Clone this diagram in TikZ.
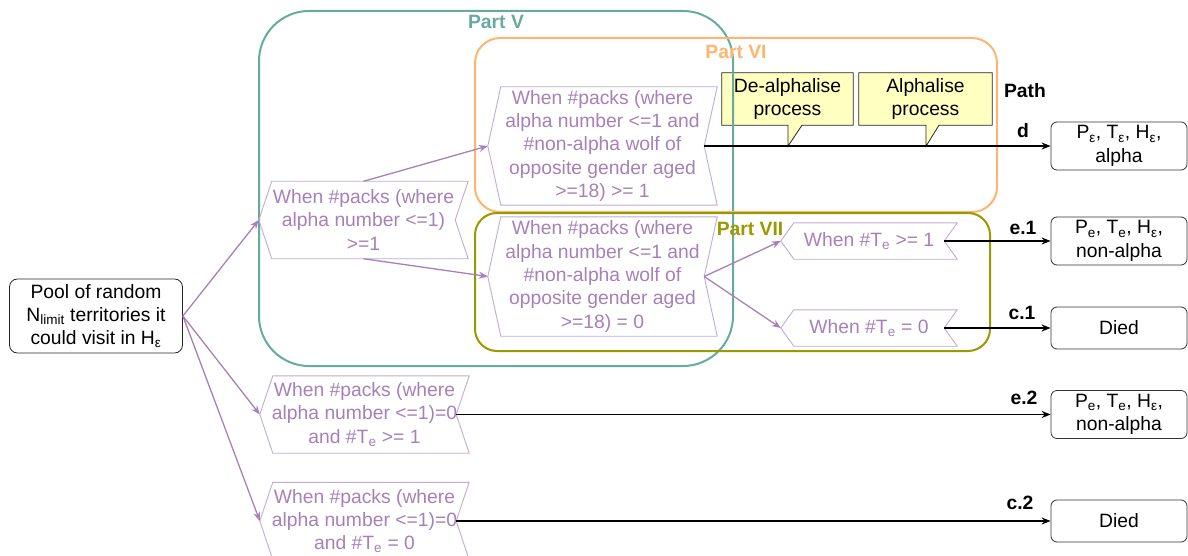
\documentclass[tikz,border=0pt]{standalone}
\usepackage{fontspec}
\setmainfont{Liberation Sans}
\usetikzlibrary{arrows.meta,backgrounds}

\definecolor{purp}{HTML}{A680B8}
\definecolor{purpline}{HTML}{C3A9D3}
\definecolor{tealV}{HTML}{67AB9F}
\definecolor{orangeVI}{HTML}{FFB570}
\definecolor{oliveVII}{HTML}{999900}
\definecolor{callfill}{HTML}{FFFFC0}

\begin{document}
\begin{tikzpicture}[x=1pt,y=-1pt,
  every node/.style={font=\fontsize{19.3pt}{23.3pt}\selectfont, inner sep=0pt, align=center},
  cond/.style={text=purp},
  chevline/.style={draw=purpline, line width=0.9pt},
  result/.style={draw=black!80, rounded corners=6pt, line width=0.8pt, minimum width=136pt},
  partlabel/.style={font=\fontsize{19.3pt}{23.3pt}\selectfont\bfseries},
  pathlabel/.style={font=\fontsize{19.3pt}{23.3pt}\selectfont\bfseries},
  callbox/.style={minimum height=52pt},
  callline/.style={draw=black!85, fill=callfill, line width=0.8pt},
  parr/.style={draw=purp, line width=1.3pt, -{Stealth[length=9pt,width=7pt,inset=3pt]}},
  blk/.style={draw=black, line width=1.2pt, -{Stealth[length=9pt,width=7pt,inset=3pt]}}
]
\useasboundingbox (0,0) rectangle (1188,556);

% grouping frames
\draw[tealV, line width=2pt, rounded corners=50pt] (259,11) rectangle (733,366);
\draw[orangeVI, line width=2pt, rounded corners=25pt] (475,38) rectangle (997,212);
\draw[oliveVII, line width=2pt, rounded corners=22pt] (475,213) rectangle (990,351);

\node[partlabel, text=tealV] (lblV) at (496,22) {Part V};
\node[partlabel, text=orangeVI] (lblVI) at (736,52) {Part VI};
\node[partlabel, text=oliveVII] (lblVII) at (750,229) {Part VII};

% start node
\node[draw=black!85, rounded corners=8pt, line width=0.8pt, minimum width=173pt, minimum height=74pt]
  (pool) at (96,316) {Pool of random\\N\textsubscript{limit} territories it\\could visit in H\textsubscript{ε}};

% condition steps
\node[cond, minimum width=209pt, minimum height=77pt] (b1) at (363.5,220)
  {When \#packs (where\\alpha number <=1)\\>=1};
\node[cond, minimum width=229pt, minimum height=118pt] (b2) at (602.5,146)
  {When \#packs (where\\alpha number <=1 and\\\#non-alpha wolf of\\opposite gender aged\\>=18) >= 1};
\node[cond, minimum width=229pt, minimum height=119pt] (b3) at (602.5,276.5)
  {When \#packs (where\\alpha number <=1 and\\\#non-alpha wolf of\\opposite gender aged\\>=18) = 0};
\node[cond, minimum width=176pt, minimum height=36pt] (b4) at (869,241)
  {When \#T\textsubscript{e} >= 1};
\node[cond, minimum width=176pt, minimum height=36pt] (b5) at (869,328)
  {When \#T\textsubscript{e} = 0};
\node[cond, minimum width=209pt, minimum height=77pt] (b6) at (364.5,414.5)
  {When \#packs (where\\alpha number <=1)=0\\and \#T\textsubscript{e} >= 1};
\node[cond, minimum width=209pt, minimum height=77pt] (b7) at (364.5,521)
  {When \#packs (where\\alpha number <=1)=0\\and \#T\textsubscript{e} = 0};

\foreach \n in {b1,b2,b3,b4,b5,b6,b7}
  \draw[chevline] ([xshift=13pt]\n.north west) -- (\n.north east) -- ([xshift=-13pt]\n.east)
    -- (\n.south east) -- ([xshift=13pt]\n.south west) -- (\n.west) -- cycle;

% outcomes
\node[result, minimum height=48pt] (r1) at (1119,146) {P\textsubscript{ε}, T\textsubscript{ε}, H\textsubscript{ε},\\alpha};
\node[result, minimum height=48pt] (r2) at (1119,241) {P\textsubscript{e}, T\textsubscript{e}, H\textsubscript{ε},\\non-alpha};
\node[result, minimum height=42pt] (r3) at (1119,328) {Died};
\node[result, minimum height=48pt] (r4) at (1119,414.5) {P\textsubscript{e}, T\textsubscript{e}, H\textsubscript{ε},\\non-alpha};
\node[result, minimum height=42pt] (r5) at (1119,521) {Died};

% path labels
\node[pathlabel] (lpath) at (1025,91) {Path};
\node[pathlabel] (ld) at (1023,131) {d};
\node[pathlabel] (le1) at (1023,228) {e.1};
\node[pathlabel] (lc1) at (1022,313) {c.1};
\node[pathlabel] (le2) at (1024,398) {e.2};
\node[pathlabel] (lc2) at (1020,503) {c.2};

% process callouts
\node[callbox, minimum width=131pt] (c1) at (787.5,99) {De-alphalise\\process};
\node[callbox, minimum width=133pt] (c2) at (925.5,99) {Alphalise\\process};
\begin{scope}[on background layer]
  \draw[callline] (c1.north west) -- (c1.north east) -- (c1.south east) -- ([xshift=14.5pt]c1.south)
    -- ([xshift=0.5pt,yshift=-21pt]c1.south) -- ([xshift=0.5pt]c1.south) -- (c1.south west) -- cycle;
  \draw[callline] (c2.north west) -- (c2.north east) -- (c2.south east) -- ([xshift=13.5pt]c2.south)
    -- ([xshift=0.5pt,yshift=-21pt]c2.south) -- ([xshift=0.5pt]c2.south) -- (c2.south west) -- cycle;
\end{scope}

% branching connectors
\draw[parr] (pool.east) -- (b1.west);
\draw[parr] (pool.east) -- (b6.west);
\draw[parr] (pool.east) -- (b7.west);
\draw[parr] (b1.north) -- (b2.west);
\draw[parr] (b1.south) -- (b3.west);
\draw[parr] ([xshift=-13pt]b3.east) -- (b4.west);
\draw[parr] ([xshift=-13pt]b3.east) -- (b5.west);

% outcome connectors
\draw[blk] ([xshift=-13pt]b2.east) -- (r1.west);
\draw[blk] ([xshift=-13pt]b4.east) -- (r2.west);
\draw[blk] ([xshift=-13pt]b5.east) -- (r3.west);
\draw[blk] ([xshift=-13pt]b6.east) -- (r4.west);
\draw[blk] ([xshift=-13pt]b7.east) -- (r5.west);
\end{tikzpicture}
\end{document}
